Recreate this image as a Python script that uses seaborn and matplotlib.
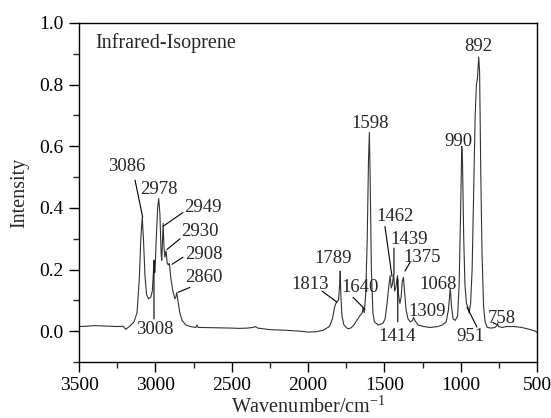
import matplotlib
matplotlib.use("Agg")
import matplotlib.pyplot as plt
from matplotlib.ticker import MultipleLocator
import seaborn as sns
import pandas as pd

# spectrum (wavenumber in cm-1, intensity)
wavenumber = [3500, 3450, 3400, 3350, 3300, 3250, 3210, 3195, 3170, 3140, 3120, 3105, 3095, 3086,
              3078, 3068, 3058, 3045, 3030, 3020, 3013, 3010, 3008, 3004, 3000, 2995, 2985, 2978,
              2970, 2962, 2958, 2953, 2949, 2944, 2938, 2930, 2922, 2915, 2908, 2898, 2885, 2872,
              2866, 2860, 2852, 2840, 2825, 2800, 2770, 2735, 2727, 2720, 2700, 2600, 2500, 2450,
              2400, 2360, 2345, 2330, 2250, 2150, 2050, 2000, 1950, 1900, 1860, 1840, 1825, 1813,
              1800, 1793, 1789, 1785, 1778, 1765, 1740, 1720, 1700, 1680, 1660, 1645, 1640, 1632,
              1622, 1612, 1604, 1598, 1593, 1585, 1575, 1565, 1540, 1510, 1495, 1482, 1470, 1462,
              1455, 1448, 1439, 1432, 1425, 1414, 1408, 1398, 1390, 1383, 1375, 1368, 1358, 1345,
              1330, 1315, 1309, 1300, 1280, 1240, 1200, 1150, 1120, 1095, 1080, 1068, 1060, 1050,
              1035, 1020, 1010, 1000, 993, 988, 980, 972, 962, 951, 945, 935, 925, 915, 905, 897,
              890, 882, 876, 868, 860, 850, 840, 825, 800, 775, 762, 758, 752, 730, 700, 650, 600,
              550, 510, 500]
intensity = [0.015, 0.016, 0.018, 0.017, 0.016, 0.015, 0.016, 0.006, 0.015, 0.03, 0.06, 0.17, 0.30, 0.37,
             0.30, 0.18, 0.12, 0.105, 0.11, 0.13, 0.19, 0.21, 0.23, 0.19, 0.22, 0.29, 0.40, 0.43,
             0.38, 0.25, 0.23, 0.30, 0.35, 0.28, 0.24, 0.26, 0.22, 0.215, 0.22, 0.17, 0.13, 0.105,
             0.11, 0.125, 0.10, 0.06, 0.035, 0.02, 0.015, 0.012, 0.02, 0.012, 0.012, 0.011, 0.010, 0.009,
             0.010, 0.012, 0.015, 0.010, 0.005, 0.003, 0.0, -0.003, -0.002, 0.003, 0.015, 0.04, 0.08, 0.095,
             0.10, 0.15, 0.195, 0.12, 0.05, 0.02, 0.008, 0.01, 0.02, 0.035, 0.05, 0.06, 0.075, 0.06,
             0.12, 0.30, 0.55, 0.645, 0.50, 0.20, 0.06, 0.03, 0.02, 0.025, 0.04, 0.09, 0.15, 0.18,
             0.14, 0.15, 0.185, 0.13, 0.14, 0.18, 0.12, 0.09, 0.11, 0.16, 0.175, 0.13, 0.07, 0.04,
             0.03, 0.035, 0.045, 0.035, 0.02, 0.015, 0.012, 0.015, 0.02, 0.03, 0.07, 0.14, 0.08, 0.04,
             0.035, 0.05, 0.15, 0.40, 0.60, 0.55, 0.30, 0.15, 0.09, 0.075, 0.06, 0.09, 0.20, 0.45, 0.70, 0.80,
             0.82, 0.89, 0.84, 0.50, 0.25, 0.08, 0.03, 0.012, 0.01, 0.012, 0.018, 0.025, 0.015, 0.012, 0.015,
             0.015, 0.012, 0.006, 0.0, -0.005]

# peak labels and the point on the curve each label points to
peak_labels = ["3086", "2978", "2949", "2930", "2908", "2860", "3008",
               "1813", "1789", "1640", "1598", "1462", "1439", "1414", "1375",
               "1309", "1068", "990", "951", "892", "758"]
peak_wn = [3083, 2978, 2950, 2924, 2891, 2852, 3009,
           1810, 1789, 1627, 1598, 1450, 1437, 1412, 1365,
           1309, 1068, 990, 959, 882, 765]
peak_int = [0.37, 0.43, 0.34, 0.265, 0.217, 0.126, 0.23,
            0.094, 0.195, 0.071, 0.645, 0.178, 0.185, 0.17, 0.195,
            0.045, 0.14, 0.60, 0.078, 0.89, 0.022]

df = pd.DataFrame({"wn": wavenumber, "I": intensity})

sns.set_theme(style="ticks")
plt.rcParams["font.family"] = ["Liberation Serif", "DejaVu Serif"]
plt.rcParams["mathtext.fontset"] = "custom"
plt.rcParams["mathtext.rm"] = "Liberation Serif"

fig = plt.figure(figsize=(5.51, 4.18), dpi=100)
ax = fig.add_axes([0.1434, 0.134, 0.8312, 0.811])

sns.lineplot(data=df, x="wn", y="I", color="#333333", lw=0.8, estimator=None, sort=False, ax=ax)

ax.set_xlim(3500, 500)
ax.set_ylim(-0.1, 1.0)
ax.xaxis.set_major_locator(MultipleLocator(500))
ax.xaxis.set_minor_locator(MultipleLocator(250))
ax.yaxis.set_major_locator(MultipleLocator(0.2))
ax.yaxis.set_minor_locator(MultipleLocator(0.1))
ax.yaxis.set_major_formatter(plt.FuncFormatter(lambda v, p: f"{v:.1f}"))
ax.tick_params(which="major", direction="out", length=7, width=1, labelsize=14, colors="black", pad=4)
ax.tick_params(which="minor", direction="out", length=4, width=1)
for s in ax.spines.values():
    s.set_linewidth(1)
    s.set_color("black")

ax.set_xlabel("Wavenumber/cm$^{-1}$", fontsize=14.5, labelpad=1)
ax.set_ylabel("Intensity", fontsize=14.5, labelpad=7)

ax.text(3390, 0.935, "Infrared-Isoprene", fontsize=14.5, va="center", ha="left")

# label text centre, and start of leader line (None = no leader)
text_pos = {
    "3086": (3186, 0.535, (3133, 0.49)), "2978": (2976, 0.46, None),
    "2949": (2690, 0.40, (2819, 0.385)), "2930": (2707, 0.325, (2838, 0.30)),
    "2908": (2681, 0.25, (2819, 0.24)), "2860": (2681, 0.175, (2773, 0.142)),
    "3008": (3002, 0.005, (3009, 0.04)), "1813": (1987, 0.152, (1908, 0.13)),
    "1789": (1836, 0.235, None), "1640": (1662, 0.142, (1705, 0.11)),
    "1598": (1594, 0.675, None), "1462": (1430, 0.372, (1496, 0.34)),
    "1439": (1335, 0.298, (1437, 0.27)), "1414": (1417, -0.016, (1412, 0.03)),
    "1375": (1255, 0.24, (1332, 0.223)), "1309": (1221, 0.065, None),
    "1068": (1149, 0.152, None), "990": (1017, 0.615, None),
    "951": (939, -0.016, (893, 0.013)), "892": (887, 0.925, None),
    "758": (729, 0.04, (790, 0.028)),
}
for lab, x, y in zip(peak_labels, peak_wn, peak_int):
    tx, ty, start = text_pos[lab]
    ax.text(tx, ty, lab, fontsize=13.5, ha="center", va="center")
    if start is not None:
        ax.annotate("", xy=(x, y), xytext=start,
                    arrowprops=dict(arrowstyle="-", lw=0.8, color="black", shrinkA=0, shrinkB=0))

fig.savefig("out.png", dpi=100)
